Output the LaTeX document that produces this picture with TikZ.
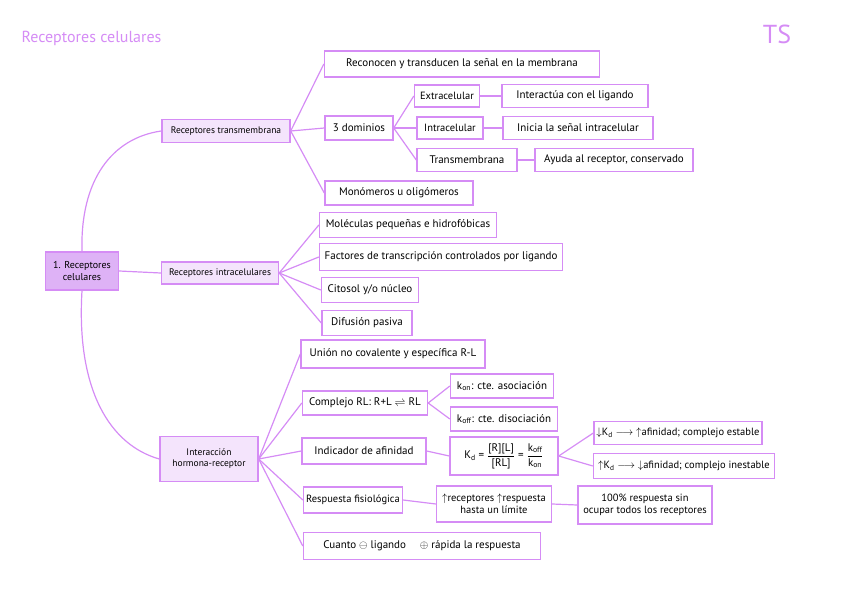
\documentclass[tikz,border=0pt]{standalone}
\usepackage{fontspec}
\setmainfont{PT Sans}
\usepackage{amsmath}
\usetikzlibrary{positioning}
\definecolor{lila}{RGB}{213,140,245}
\definecolor{lilaroot}{RGB}{222,178,246}
\definecolor{lilasoft}{RGB}{244,228,252}

\begin{document}
\begin{tikzpicture}[x=1pt, y=-1pt,
  box/.style={rectangle, draw=lila, line width=1.4pt, fill=white, inner sep=2pt,
              align=center, font=\fontsize{11}{12.5}\selectfont},
  branch/.style={box, fill=lilasoft, font=\fontsize{9.5}{11}\selectfont},
  link/.style={draw=lila, line width=1.2pt}
]
\useasboundingbox (0,0) rectangle (848,599);

\node[text=lila, font=\fontsize{16}{18}\selectfont, anchor=west] (title) at (18,38) {Receptores celulares};
\node[text=lila, font=\fontsize{26}{28}\selectfont] (ts) at (777,34) {TS};

\node[box, fill=lilaroot, minimum width=73, minimum height=38, font=\fontsize{10}{11.5}\selectfont] (root) at (82,271) {1. Receptores\\celulares};
\node[branch, minimum width=128, minimum height=23] (trans) at (226,131) {Receptores transmembrana};
\node[branch, minimum width=117, minimum height=22] (intra) at (220,273) {Receptores intracelulares};
\node[branch, minimum width=98, minimum height=45]  (inter) at (209,459) {Interacción\\hormona-receptor};

\node[box, minimum width=275, minimum height=26] (recon)    at (462,64)  {Reconocen y transducen la señal en la membrana};
\node[box, minimum width=68,  minimum height=24] (dom)      at (359,128) {3 dominios};
\node[box, minimum width=148, minimum height=24] (mono)     at (399,193) {Monómeros u oligómeros};
\node[box, minimum width=65,  minimum height=22, font=\fontsize{10.5}{12}\selectfont] (extra)  at (447,96)  {Extracelular};
\node[box, minimum width=66,  minimum height=22, font=\fontsize{10.5}{12}\selectfont] (intrac) at (450,128) {Intracelular};
\node[box, minimum width=100, minimum height=23] (transm)   at (467,160) {Transmembrana};
\node[box, minimum width=146, minimum height=23] (interact) at (575,96)  {Interactúa con el ligando};
\node[box, minimum width=150, minimum height=23] (inicia)   at (578,128) {Inicia la señal intracelular};
\node[box, minimum width=158, minimum height=23] (ayuda)    at (614,160) {Ayuda al receptor, conservado};

\node[box, minimum width=177, minimum height=25] (molec)   at (408,225) {Moléculas pequeñas e hidrofóbicas};
\node[box, minimum width=243, minimum height=27] (factor)  at (441,257) {Factores de transcripción controlados por ligando};
\node[box, minimum width=97,  minimum height=25] (citosol) at (370,290) {Citosol y/o núcleo};
\node[box, minimum width=90,  minimum height=25] (difus)   at (367,323) {Difusión pasiva};

\node[box, minimum width=184, minimum height=28] (union)  at (393,354) {Unión no covalente y específica R-L};
\node[box, minimum width=125, minimum height=24] (compl)  at (365,403) {Complejo RL: R+L $\rightleftharpoons$ RL};
\node[box, minimum width=103, minimum height=24] (kon)    at (502,386) {k$_{\text{on}}$: cte. asociación};
\node[box, minimum width=107, minimum height=24] (koff)   at (504,419) {k$_{\text{off}}$: cte. disociación};
\node[box, minimum width=124, minimum height=26] (indic)  at (364,451) {Indicador de afinidad};
\node[box, minimum width=108, minimum height=38] (kd)     at (504,456) {K$_{\text{d}}$ = $\dfrac{\text{[R][L]}}{\text{[RL]}}$ = $\dfrac{\text{k}_{\text{off}}}{\text{k}_{\text{on}}}$};
\node[box, minimum width=168, minimum height=23, font=\fontsize{10.5}{12}\selectfont] (baja) at (678,433) {$\downarrow$K$_{\text{d}}$ $\longrightarrow$ $\uparrow$afinidad; complejo estable};
\node[box, minimum width=181, minimum height=25, font=\fontsize{10.5}{12}\selectfont] (sube) at (684,466) {$\uparrow$K$_{\text{d}}$ $\longrightarrow$ $\downarrow$afinidad; complejo inestable};
\node[box, minimum width=99,  minimum height=26, font=\fontsize{10.5}{12}\selectfont] (resp) at (353,500) {Respuesta fisiológica};
\node[box, minimum width=115, minimum height=36, font=\fontsize{10.5}{12}\selectfont] (limite) at (494,504) {$\uparrow$receptores $\uparrow$respuesta\\hasta un límite};
\node[box, minimum width=134, minimum height=38, font=\fontsize{10.5}{12}\selectfont] (cien) at (645,505) {100\% respuesta sin\\ocupar todos los receptores};
\node[box, minimum width=237, minimum height=27] (cuanto) at (422,546) {Cuanto $\ominus$ ligando \quad $\oplus$ rápida la respuesta};

\draw[link] (root.north) .. controls (80,180) and (112,138) .. (trans.west);
\draw[link] (root.east) -- (intra.west);
\draw[link] (root.south) .. controls (76,390) and (110,445) .. (inter.west);

\foreach \c in {recon,dom,mono} \draw[link] (trans.east) -- (\c.west);
\foreach \c in {extra,intrac,transm} \draw[link] (dom.east) -- (\c.west);
\draw[link] (extra.east) -- (interact.west);
\draw[link] (intrac.east) -- (inicia.west);
\draw[link] (transm.east) -- (ayuda.west);
\foreach \c in {molec,factor,citosol,difus} \draw[link] (intra.east) -- (\c.west);
\foreach \c in {union,compl,indic,resp,cuanto} \draw[link] (inter.east) -- (\c.west);
\foreach \c in {kon,koff} \draw[link] (compl.east) -- (\c.west);
\draw[link] (indic.east) -- (kd.west);
\foreach \c in {baja,sube} \draw[link] (kd.east) -- (\c.west);
\draw[link] (resp.east) -- (limite.west);
\draw[link] (limite.east) -- (cien.west);
\end{tikzpicture}
\end{document}
